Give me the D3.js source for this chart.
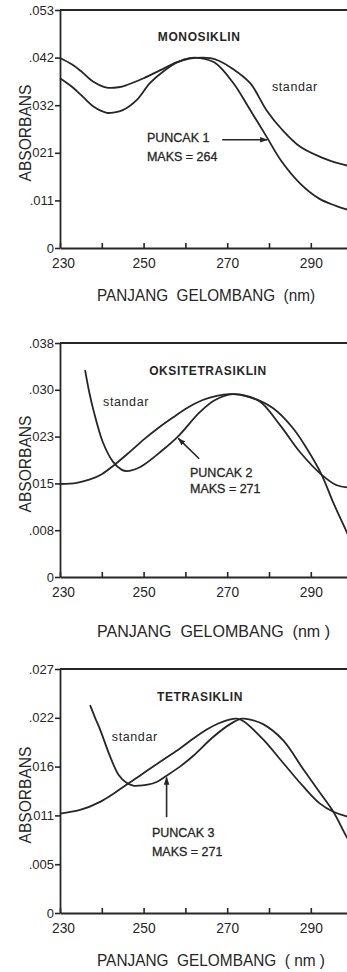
<!DOCTYPE html>
<html>
<head>
<meta charset="utf-8">
<script src="https://cdn.jsdelivr.net/npm/d3@7"></script>
<style>
  body { margin: 0; background: #fff; }
  text { fill: #262626; font-family: "Liberation Sans", Arial, sans-serif; }
</style>
</head>
<body>
<div id="app"></div>
<script>
// x axis, shared by all three panels
const nmTicks = [230, 240, 250, 260, 270, 280, 290];
const nmLabels = [230, 250, 270, 290];

// y tick labels (ticks sit at fifths of the axis, labels are rounded)
const monoYLabels = ["0", ".011", ".021", ".032", ".042", ".053"];
const oksiYLabels = ["0", ".008", ".015", ".023", ".030", ".038"];
const tetraYLabels = ["0", ".005", ".011", ".016", ".022", ".027"];

// [panjang gelombang nm, absorbans]
const monoStandar = [[230,.0423],[233,.0408],[235,.0394],[238,.0370],[241.2,.0357],[244,.0358],[246,.0363],
  [250,.0378],[254,.0396],[258,.0414],[261,.0422],[264,.0424],[266,.0423],[268,.0417],[271,.0401],
  [275.5,.0367],[279.4,.0307],[283,.0265],[287.4,.0226],[293,.0200],[296,.0190],[300,.0181]];
const monoSampel = [[230,.0378],[233,.0358],[235,.0341],[238,.0315],[241.2,.0301],[243,.0302],[245,.0307],
  [248.4,.0330],[251.5,.0367],[254.7,.0393],[258,.0413],[261,.0423],[263.5,.0423],[267,.0413],
  [271.5,.0367],[275,.0315],[279.4,.0248],[283,.0193],[287.4,.0144],[292,.0110],[296,.0094],[300,.0082]];

const oksiStandar = [[236,.0336],[237,.0300],[238,.0271],[240.3,.0218],[242.7,.0187],[244.8,.0174],[246,.0172],
  [248,.0175],[250,.0182],[254,.0203],[258.2,.0228],[263.5,.0268],[267,.0287],[271.4,.0297],[275.5,.0292],
  [281,.0274],[285.7,.0242],[289,.0209],[292.6,.0166],[295.3,.0122],[298.6,.0073],[300,.0052]];
const oksiSampel = [[230,.0151],[234,.0153],[237,.0158],[240,.0167],[243,.0182],[246.5,.0202],
  [250,.0223],[253.5,.0242],[257,.0259],[260.5,.0275],[264,.0287],[267.5,.0294],[270.5,.0297],
  [273.1,.0296],[277.8,.0285],[282.6,.0247],[287.4,.0203],[292.6,.0166],[296.2,.0149],[300,.0145]];

const tetraStandar = [[237.2,.0230],[238.4,.0216],[239.6,.0203],[242,.0173],[244,.0153],[245.9,.0144],
  [247.5,.0141],[249.1,.0141],[251,.0142],[253.1,.0145],[255.5,.0152],[258.7,.0162],[261.9,.0174],
  [266.7,.0195],[270.7,.0209],[273.5,.0215],[275.5,.0214],[278.6,.0209],[283.4,.0191],[288.2,.0159],
  [292.2,.0133],[295.4,.0112],[298.6,.0084],[300,.0074]];
const tetraSampel = [[230,.0110],[234.8,.0114],[239.6,.0123],[242.8,.0132],[245.9,.0142],[249.1,.0152],
  [252.3,.0162],[255.5,.0172],[258.7,.0182],[261.9,.0193],[265.1,.0203],[268,.0210],[270.5,.0214],
  [272.3,.0215],[274,.0212],[278.6,.0192],[283.4,.0166],[288.2,.0140],[292.2,.0121],[295.4,.0112],
  [298.6,.0107],[300,.0106]];

// annotations: [nm, absorbans] anchors
const monoNotes = { title: [263.3,.0461], standar: [280.7,.0350], puncak: [250.8,.0236], maks: [250.8,.0194],
  arrow: [[268.8,.0241],[279.6,.0241]] };
const oksiNotes = { title: [265.4,.0328], standar: [240.3,.0278], puncak: [261.1,.0162], maks: [261.1,.0136],
  arrow: [[263.3,.0192],[258.3,.0225]] };
const tetraNotes = { title: [263.5,.0235], standar: [242.4,.0190], puncak: [252,.0084], maks: [252,.0063],
  arrow: [[255.5,.0106],[255.5,.0150]] };

const panels = [
  { name: "MONOSIKLIN", yMax: .053, yLabels: monoYLabels, standar: monoStandar, sampel: monoSampel,
    notes: monoNotes, puncak: "PUNCAK 1", maks: "MAKS = 264", xTitle: "PANJANG  GELOMBANG  (nm)",
    top: 10, bottom: 248, titleDy: 53, titleLen: 218 },
  { name: "OKSITETRASIKLIN", yMax: .038, yLabels: oksiYLabels, standar: oksiStandar, sampel: oksiSampel,
    notes: oksiNotes, puncak: "PUNCAK 2", maks: "MAKS = 271", xTitle: "PANJANG  GELOMBANG  (nm )",
    top: 343, bottom: 577, titleDy: 60, titleLen: 233 },
  { name: "TETRASIKLIN", yMax: .027, yLabels: tetraYLabels, standar: tetraStandar, sampel: tetraSampel,
    notes: tetraNotes, puncak: "PUNCAK 3", maks: "MAKS = 271", xTitle: "PANJANG  GELOMBANG  ( nm )",
    top: 669, bottom: 913, titleDy: 53, titleLen: 228 }
];

const width = 347, height = 972, left = 60;
const ink = "#262626";

const svg = d3.select("#app").append("svg")
  .attr("width", width)
  .attr("height", height)
  .style("display", "block");

svg.append("defs").append("marker")
  .attr("id", "head")
  .attr("viewBox", "0 0 10 10")
  .attr("refX", 9).attr("refY", 5)
  .attr("markerWidth", 8).attr("markerHeight", 8)
  .attr("markerUnits", "userSpaceOnUse")
  .attr("orient", "auto")
  .append("path")
  .attr("d", "M0,1.5 L10,5 L0,8.5 Z")
  .attr("fill", ink);

const x = d3.scaleLinear().domain([230, 300]).range([left, left + 70 * 4.18]);

const drawPanel = (p) => {
  const y = d3.scaleLinear().domain([0, p.yMax]).range([p.bottom, p.top]);
  const g = svg.append("g");
  const path = d3.line().x(d => x(d[0])).y(d => y(d[1])).curve(d3.curveCatmullRom.alpha(0.5));

  // y axis
  const yAxis = d3.axisLeft(y)
    .tickValues(d3.range(6).map(i => p.yMax * i / 5))
    .tickFormat((d, i) => p.yLabels[i])
    .tickSize(5)
    .tickSizeOuter(0)
    .tickPadding(1);
  const ya = g.append("g").attr("transform", `translate(${left},0)`).call(yAxis);
  ya.selectAll("text").attr("font-size", 13).attr("font-family", null).attr("fill", ink);

  // x axis, ticks point inward
  const xAxis = d3.axisBottom(x)
    .tickValues(nmTicks)
    .tickFormat(d => nmLabels.includes(d) ? d : "")
    .tickSize(-5)
    .tickSizeOuter(0)
    .tickPadding(9);
  const xa = g.append("g").attr("transform", `translate(0,${p.bottom})`).call(xAxis);
  xa.selectAll("text")
    .attr("font-size", 15)
    .attr("font-family", null)
    .attr("fill", ink)
    .attr("dx", d => d === 230 ? 3 : 0)
    .filter(d => nmLabels.includes(d))
    .attr("textLength", 23)
    .attr("lengthAdjust", "spacingAndGlyphs");

  [ya, xa].forEach(a => {
    a.select(".domain").attr("stroke", ink).attr("stroke-width", 1.8);
    a.selectAll(".tick line").attr("stroke", ink).attr("stroke-width", 1.6);
  });

  // top frame line
  g.append("line")
    .attr("x1", left).attr("x2", x(300))
    .attr("y1", p.top).attr("y2", p.top)
    .attr("stroke", ink).attr("stroke-width", 1.8);

  // spectra
  g.selectAll(".spec")
    .data([p.standar, p.sampel])
    .join("path")
    .attr("class", "spec")
    .attr("d", path)
    .attr("fill", "none")
    .attr("stroke", ink)
    .attr("stroke-width", 1.8);

  // texts
  g.append("text")
    .attr("x", x(p.notes.title[0])).attr("y", y(p.notes.title[1]))
    .attr("text-anchor", "middle")
    .attr("font-size", 12).attr("font-weight", "bold")
    .attr("letter-spacing", 0.6)
    .text(p.name);

  g.append("text")
    .attr("x", x(p.notes.standar[0])).attr("y", y(p.notes.standar[1]))
    .attr("font-size", 12.5).attr("letter-spacing", 0.6)
    .text("standar");

  g.append("text")
    .attr("x", x(p.notes.puncak[0])).attr("y", y(p.notes.puncak[1]))
    .attr("font-size", 12.5).attr("stroke", ink).attr("stroke-width", 0.3)
    .style("white-space", "pre")
    .text(p.puncak);

  g.append("text")
    .attr("x", x(p.notes.maks[0])).attr("y", y(p.notes.maks[1]))
    .attr("font-size", 12.5).attr("stroke", ink).attr("stroke-width", 0.3)
    .text(p.maks);

  g.append("path")
    .attr("d", d3.line().x(d => x(d[0])).y(d => y(d[1]))(p.notes.arrow))
    .attr("stroke", ink).attr("stroke-width", 1.6)
    .attr("fill", "none")
    .attr("marker-end", "url(#head)");

  // axis titles
  g.append("text")
    .attr("transform", `translate(25,${(p.top + p.bottom) / 2 + 4}) rotate(-90)`)
    .attr("text-anchor", "middle")
    .attr("dy", "0.36em")
    .attr("font-size", 17)
    .attr("textLength", 97)
    .attr("lengthAdjust", "spacingAndGlyphs")
    .text("ABSORBANS");

  g.append("text")
    .attr("x", 97).attr("y", p.bottom + p.titleDy)
    .attr("font-size", 16)
    .attr("textLength", p.titleLen)
    .attr("lengthAdjust", "spacingAndGlyphs")
    .style("white-space", "pre")
    .text(p.xTitle);
};

panels.forEach(drawPanel);
</script>
</body>
</html>
